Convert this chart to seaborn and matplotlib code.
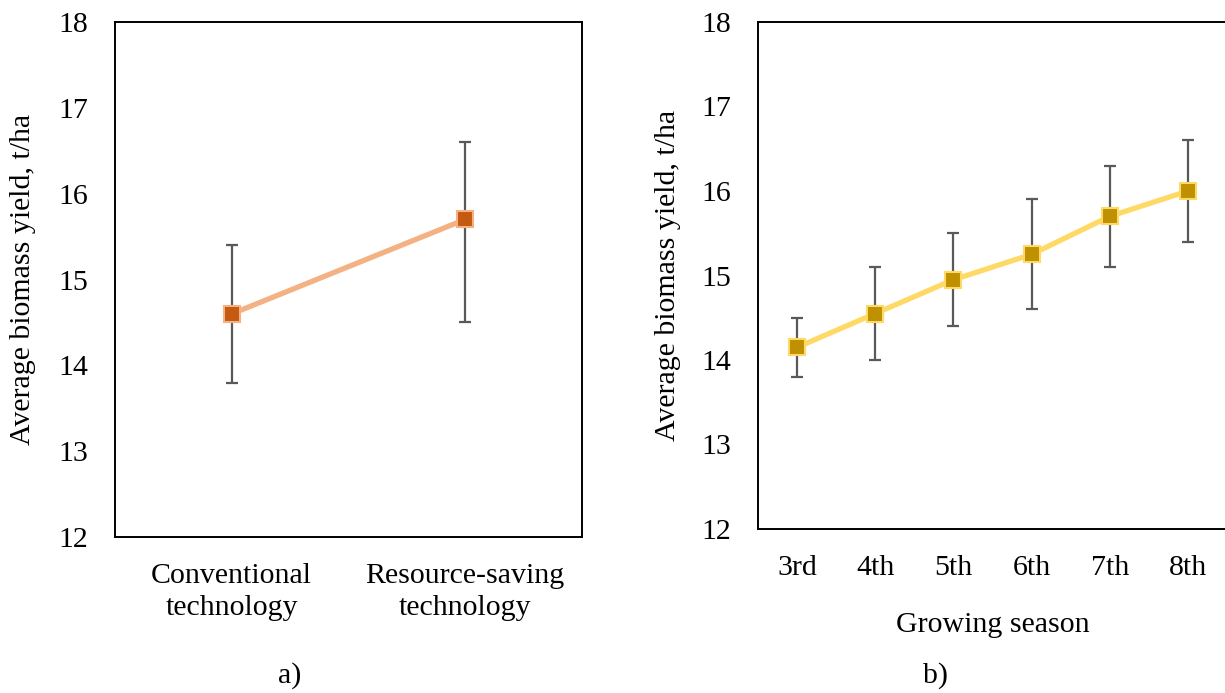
import matplotlib
matplotlib.use("Agg")
import matplotlib.pyplot as plt
import seaborn as sns
import pandas as pd

# ---- data ----
tech = ["Conventional\ntechnology", "Resource-saving\ntechnology"]
tech_mean = [14.6, 15.7]
tech_low = [13.8, 14.5]
tech_high = [15.4, 16.6]

seasons = ["3rd", "4th", "5th", "6th", "7th", "8th"]
season_mean = [14.15, 14.55, 14.95, 15.25, 15.7, 16.0]
season_low = [13.8, 14.0, 14.4, 14.6, 15.1, 15.4]
season_high = [14.5, 15.1, 15.5, 15.9, 16.3, 16.6]

ylabel = "Average biomass yield, t/ha"
yticks = [12, 13, 14, 15, 16, 17, 18]

sns.set_theme(style="white")
plt.rcParams["font.family"] = ["Liberation Serif", "DejaVu Serif"]
plt.rcParams["text.color"] = "black"
FS = 21.5

fig = plt.figure(figsize=(12.25, 6.93), dpi=100)
W, H = 1225, 693
axA = fig.add_axes([115 / W, 1 - 537 / H, (582 - 115) / W, (537 - 22) / H])
axB = fig.add_axes([758 / W, 1 - 529 / H, (1227 - 758) / W, (529 - 22) / H])


def panel(ax, cats, mean, low, high, line_c, mark_c):
    df = pd.DataFrame({"x": cats, "y": mean})
    yerr = [[m - l for m, l in zip(mean, low)], [h - m for m, h in zip(mean, high)]]
    ax.errorbar(cats, mean, yerr=yerr, fmt="none", ecolor="#595959",
                elinewidth=1.6, capsize=4.5, capthick=1.6, zorder=2)
    sns.lineplot(data=df, x="x", y="y", ax=ax, sort=False, color=line_c,
                 linewidth=3.8, marker="s", markersize=11,
                 markerfacecolor=mark_c, markeredgecolor=line_c,
                 markeredgewidth=1.5, zorder=3)
    ax.set_xlim(-0.5, len(cats) - 0.5)
    ax.set_ylim(12, 18)
    ax.set_yticks(yticks)
    ax.set_yticklabels([str(t) for t in yticks], fontsize=FS)
    ax.tick_params(axis="both", length=0, colors="black")
    ax.tick_params(axis="y", pad=19)
    for s in ax.spines.values():
        s.set_color("black")
        s.set_linewidth(1.4)
    ax.set_ylabel(ylabel, fontsize=FS, color="black")
    ax.set_xlabel("")


panel(axA, tech, tech_mean, tech_low, tech_high, "#F4B183", "#C55A11")
panel(axB, seasons, season_mean, season_low, season_high, "#FFD966", "#BF9000")

axA.set_xticks(range(len(tech)))
axA.set_xticklabels(tech, fontsize=FS, linespacing=1.3)
axA.tick_params(axis="x", pad=19)
axB.set_xticks(range(len(seasons)))
axB.set_xticklabels(seasons, fontsize=FS)
axB.tick_params(axis="x", pad=19)
axB.set_xlabel("Growing season", fontsize=FS, color="black", labelpad=22)

axA.yaxis.set_label_coords(-(115 - 36) / 467, 0.5)
axB.yaxis.set_label_coords(-(758 - 681) / 469, 0.5)

fig.text(290 / W, 1 - 676 / H, "a)", fontsize=FS, ha="center", va="center", color="black")
fig.text(935 / W, 1 - 676 / H, "b)", fontsize=FS, ha="center", va="center", color="black")

fig.savefig("out.png", dpi=100)
